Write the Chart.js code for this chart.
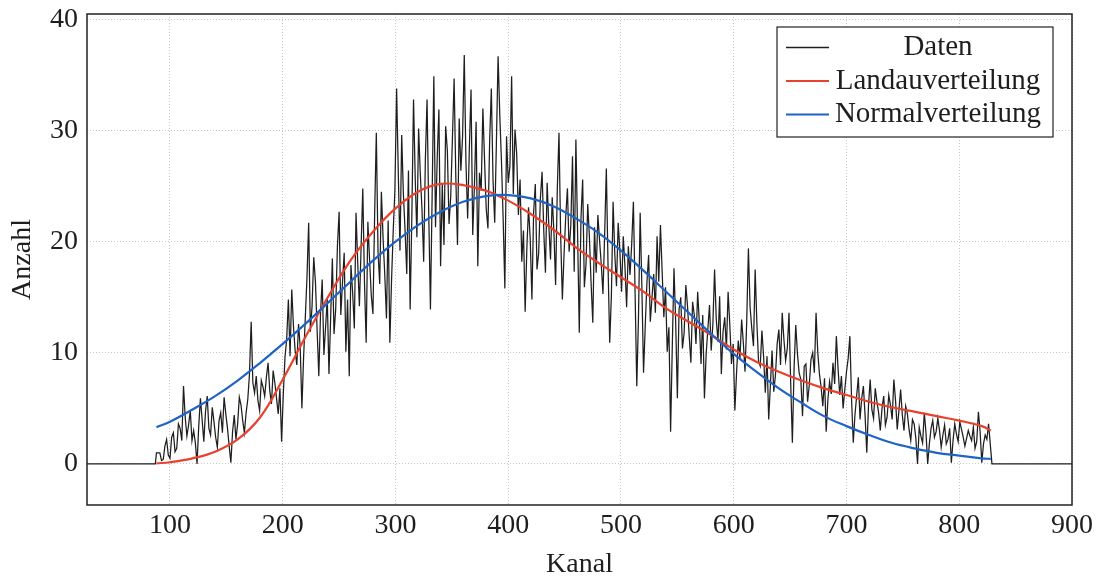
<!DOCTYPE html>
<html lang="de">
<head>
<meta charset="utf-8">
<title>Kanal / Anzahl</title>
<script src="https://cdn.jsdelivr.net/npm/chart.js@4.4.1/dist/chart.umd.min.js"></script>
<style>
  html, body { margin: 0; padding: 0; background: #fff; }
</style>
</head>
<body>
<canvas id="chart" width="1106" height="581"></canvas>
<script>
// Messdaten: ein Wert alle 3 Kanaele ab Kanal 88,
// dazu die Zwischenwerte ab Kanal 89.5 (ebenfalls alle 3 Kanaele)
const datenStart = 88;
const datenSchritt = 3;
const datenWerte = [
  1.0, 1.0, 0.4, 2.2, 0.5, 2.8, 1.4, 3.2, 7.0, 2.5,        // 88
  4.8, 3.0, 0.0, 5.9, 2.0, 6.1, 2.6, 3.8, 1.5, 4.6,        // 118
  6.0, 3.2, 0.1, 4.4, 3.6, 5.3, 2.8, 5.8, 12.8, 6.4,       // 148
  5.7, 7.5, 6.1, 9.1, 5.4, 7.3, 4.5, 2.0, 9.6, 14.8,       // 178
  15.7, 10.2, 12.6, 5.0, 13.1, 21.7, 14.2, 16.4, 7.9, 16.6, // 208
  12.3, 8.1, 18.5, 14.0, 22.7, 16.3, 10.1, 7.9, 15.4, 22.6, // 238
  14.2, 24.8, 10.9, 18.4, 13.5, 29.8, 16.2, 20.3, 13.1, 10.9, // 268
  21.0, 33.8, 19.2, 24.3, 17.1, 13.9, 32.8, 20.4, 26.1, 18.2, // 298
  32.8, 13.9, 34.9, 27.5, 17.8, 19.7, 28.2, 24.1, 34.7, 19.7, // 328
  26.4, 36.8, 22.1, 33.7, 25.0, 17.8, 24.6, 27.3, 21.2, 33.8, // 358
  21.7, 36.7, 27.2, 15.8, 25.3, 34.9, 30.1, 22.4, 18.2, 13.7, // 388
  23.1, 14.8, 25.2, 19.0, 26.3, 17.2, 21.4, 24.0, 16.1, 29.8, // 418
  14.8, 22.3, 19.1, 27.7, 29.2, 11.8, 25.6, 18.0, 20.4, 12.7, // 448
  17.2, 20.1, 15.3, 26.6, 10.9, 23.6, 16.0, 19.2, 20.5, 14.1, // 478
  17.0, 23.6, 7.0, 22.6, 8.2, 16.3, 12.8, 17.1, 20.5, 21.5,  // 508
  13.2, 10.1, 2.9, 17.6, 5.9, 15.0, 11.8, 14.2, 9.1, 13.4,   // 538
  15.5, 9.0, 5.9, 12.1, 10.2, 17.5, 11.0, 8.1, 13.2, 15.5,   // 568
  9.0, 4.8, 11.1, 13.0, 8.3, 19.4, 12.2, 17.5, 9.2, 12.0,    // 598
  6.4, 4.0, 10.2, 8.0, 12.1, 13.6, 9.3, 13.6, 1.9, 12.5,     // 628
  8.2, 4.3, 9.0, 7.1, 10.0, 13.6, 8.1, 5.2, 2.9, 7.4,        // 658
  9.1, 11.5, 6.2, 5.0, 8.3, 11.5, 1.9, 6.1, 4.0, 7.0,        // 688
  1.0, 7.6, 4.1, 5.6, 3.0, 6.1, 4.2, 5.3, 7.6, 3.1,          // 718
  6.7, 3.0, 4.5, 2.1, 3.6, 0.0, 2.5, 4.6, 0.0, 3.2,          // 748
  2.4, 4.1, 1.5, 3.5, 2.2, 0.1, 3.6, 2.0, 3.1, 1.6,          // 778
  3.0, 2.1, 1.4, 4.7, 0.1, 2.6, 3.6                          // 808
];
const zwischenWerte = [
  1.0, 0.3, 1.6, 0.8, 2.4, 1.1, 3.6, 2.1, 4.2, 3.5,          // 89.5
  2.1, 1.9, 3.4, 4.0, 4.7, 3.2, 5.1, 2.4, 3.9, 2.8,          // 119.5
  4.5, 1.6, 2.9, 2.2, 6.0, 3.9, 4.6, 8.1, 7.3, 7.9,          // 149.5
  4.8, 6.9, 7.8, 6.6, 8.4, 5.9, 6.8, 6.3, 11.2, 9.7,         // 179.5
  12.4, 8.9, 10.5, 9.6, 16.8, 11.9, 18.6, 12.0, 13.5, 9.8,   // 209.5
  14.9, 13.2, 11.7, 19.6, 13.4, 19.0, 14.8, 17.9, 12.2, 18.1, // 239.5
  19.5, 16.3, 21.8, 15.2, 22.4, 19.1, 24.5, 17.0, 21.9, 16.5, // 269.5
  24.7, 26.1, 29.6, 21.0, 26.4, 22.3, 25.7, 30.2, 22.9, 27.4, // 299.5
  22.5, 24.1, 21.3, 31.9, 25.2, 30.4, 21.6, 29.3, 25.8, 31.1, // 329.5
  29.5, 27.1, 28.4, 20.6, 30.8, 26.2, 32.0, 22.9, 29.0, 25.6, // 359.5
  28.9, 31.4, 22.0, 29.5, 26.8, 24.3, 27.9, 25.6, 21.0, 19.4, // 389.5
  20.2, 22.6, 17.5, 23.9, 21.0, 25.3, 18.4, 20.9, 24.7, 20.5, // 419.5
  18.9, 24.8, 21.5, 17.3, 20.8, 22.1, 15.9, 23.4, 16.2, 21.3, // 449.5
  22.4, 18.0, 20.6, 17.9, 15.2, 18.9, 21.7, 15.5, 17.8, 19.6, // 479.5
  19.8, 15.4, 13.1, 16.0, 12.4, 18.8, 15.0, 13.6, 16.4, 17.3, // 509.5
  15.9, 12.3, 10.6, 12.8, 13.9, 10.4, 16.1, 11.5, 14.6, 10.8, // 539.5
  12.7, 13.4, 9.8, 14.3, 12.6, 13.0, 15.1, 11.9, 10.3, 12.5,  // 569.5
  10.8, 8.2, 9.5, 10.9, 12.8, 14.1, 10.6, 12.7, 8.8, 9.6,     // 599.5
  9.7, 7.1, 6.5, 10.8, 8.9, 11.2, 10.4, 7.3, 8.6, 9.9,        // 629.5
  7.6, 8.8, 5.6, 9.4, 8.2, 10.1, 6.9, 7.7, 5.8, 6.3,          // 659.5
  7.2, 8.6, 7.9, 6.7, 9.5, 5.8, 4.4, 7.8, 5.9, 4.3,           // 689.5
  5.2, 4.9, 6.8, 4.6, 5.0, 3.5, 6.2, 4.0, 5.7, 4.8,           // 719.5
  4.4, 5.2, 3.1, 4.0, 2.3, 3.3, 1.9, 2.8, 1.8, 3.9,           // 749.5
  2.9, 3.0, 2.6, 1.8, 3.2, 2.1, 2.7, 3.8, 2.4, 2.3,           // 779.5
  2.5, 3.3, 2.0, 2.9, 1.8, 2.2                                // 809.5
];
// leere Kanaele (Anzahl 0) vor und nach dem Messbereich
const nullLinks = [26.4, 87];
const nullRechts = [829, 900];

// angepasste Kurven
const kurvenKanal = [88, 100, 120, 140, 160, 180, 200, 220, 240, 260,
  280, 300, 320, 340, 360, 380, 400, 420, 440, 460,
  480, 500, 520, 540, 560, 580, 600, 620, 640, 660,
  680, 700, 720, 740, 760, 780, 800, 820, 828];
const landauWerte = [0.05, 0.15, 0.5, 1.1, 2.2, 4.2, 7.6, 11.4, 15.0, 18.3,
  20.9, 23.0, 24.5, 25.2, 25.1, 24.6, 23.7, 22.5, 21.1, 19.5,
  18.1, 16.8, 15.5, 14.0, 12.8, 11.6, 10.3, 9.2, 8.3, 7.5,
  6.8, 6.2, 5.6, 5.1, 4.7, 4.3, 3.9, 3.4, 3.0];
const normalWerte = [3.3, 3.8, 4.9, 6.1, 7.5, 9.1, 10.8, 12.6, 14.5, 16.4,
  18.3, 20.0, 21.5, 22.7, 23.6, 24.1, 24.2, 23.9, 23.2, 22.1,
  20.8, 19.2, 17.4, 15.5, 13.6, 11.7, 9.9, 8.3, 6.8, 5.5,
  4.3, 3.4, 2.6, 1.9, 1.4, 1.0, 0.75, 0.5, 0.45];

const xTicks = [100, 200, 300, 400, 500, 600, 700, 800, 900];
const yTicks = [0, 10, 20, 30, 40];

const datenPunkte = [];
nullLinks.forEach((k) => datenPunkte.push({ x: k, y: 0 }));
datenWerte.forEach((v, i) => {
  const k = datenStart + i * datenSchritt;
  datenPunkte.push({ x: k, y: v });
  if (i < zwischenWerte.length) {
    datenPunkte.push({ x: k + datenSchritt / 2, y: zwischenWerte[i] });
  }
});
nullRechts.forEach((k) => datenPunkte.push({ x: k, y: 0 }));

const landauPunkte = kurvenKanal.map((k, i) => ({ x: k, y: landauWerte[i] }));
const normalPunkte = kurvenKanal.map((k, i) => ({ x: k, y: normalWerte[i] }));

Chart.defaults.font.family = "'Liberation Serif', 'DejaVu Serif', serif";
Chart.defaults.color = "#1e1e1e";

// Rahmen um die Achsen und Legende oben rechts
const rahmenUndLegende = {
  id: "rahmenUndLegende",
  afterDatasetsDraw(chart) {
    const { ctx, chartArea: a } = chart;
    ctx.save();
    ctx.strokeStyle = "#222";
    ctx.lineWidth = 1.5;
    ctx.strokeRect(a.left, a.top, a.right - a.left, a.bottom - a.top);

    const bx = a.right - 295;
    const by = a.top + 13;
    const bw = 276;
    const bh = 110;
    ctx.fillStyle = "#fff";
    ctx.fillRect(bx, by, bw, bh);
    ctx.lineWidth = 1.2;
    ctx.strokeRect(bx, by, bw, bh);

    ctx.font = "29px 'Liberation Serif', serif";
    ctx.textBaseline = "alphabetic";
    chart.data.datasets.forEach((ds, i) => {
      const yl = by + 20.5 + i * 33.5;
      ctx.strokeStyle = ds.borderColor;
      ctx.lineWidth = ds.legendWidth || ds.borderWidth;
      ctx.beginPath();
      ctx.moveTo(bx + 9, yl);
      ctx.lineTo(bx + 52, yl);
      ctx.stroke();
      ctx.fillStyle = "#1e1e1e";
      ctx.textAlign = "center";
      ctx.fillText(ds.label, bx + 161, by + 28 + i * 33.5);
    });
    ctx.restore();
  },
};

new Chart(document.getElementById("chart"), {
  type: "line",
  data: {
    datasets: [
      {
        label: "Daten",
        data: datenPunkte,
        borderColor: "#1e1e1e",
        borderWidth: 1.25,
        legendWidth: 1.4,
        pointRadius: 0,
        tension: 0,
        order: 3,
      },
      {
        label: "Landauverteilung",
        data: landauPunkte,
        borderColor: "#e8412e",
        borderWidth: 2.2,
        pointRadius: 0,
        tension: 0.4,
        order: 2,
      },
      {
        label: "Normalverteilung",
        data: normalPunkte,
        borderColor: "#1f63c4",
        borderWidth: 2.2,
        pointRadius: 0,
        tension: 0.4,
        order: 1,
      },
    ],
  },
  options: {
    responsive: false,
    animation: false,
    devicePixelRatio: 1,
    layout: { padding: { top: 14, right: 34, left: 0, bottom: 0 } },
    plugins: {
      legend: { display: false },
      tooltip: { enabled: false },
    },
    scales: {
      x: {
        type: "linear",
        min: 26.4,
        max: 900,
        afterBuildTicks: (scale) => {
          scale.ticks = xTicks.map((v) => ({ value: v }));
        },
        afterFit: (scale) => {
          scale.height = 76;
          scale.paddingLeft = 0;
          scale.paddingRight = 0;
        },
        ticks: { font: { size: 28 }, padding: 4, maxRotation: 0 },
        grid: { color: "rgba(0,0,0,0.28)", lineWidth: 0.8, drawTicks: false },
        border: { display: false, dash: [1, 2] },
        title: {
          display: true,
          text: "Kanal",
          font: { size: 28 },
          padding: { top: 0, bottom: 0 },
        },
      },
      y: {
        min: -3.7,
        max: 40.5,
        afterBuildTicks: (scale) => {
          scale.ticks = yTicks.map((v) => ({ value: v }));
        },
        afterFit: (scale) => {
          scale.width = 87;
          scale.paddingTop = 0;
          scale.paddingBottom = 0;
        },
        ticks: { font: { size: 28 }, padding: 9 },
        grid: { color: "rgba(0,0,0,0.28)", lineWidth: 0.8, drawTicks: false },
        border: { display: false, dash: [1, 2] },
        title: {
          display: true,
          text: "Anzahl",
          font: { size: 28 },
          padding: { top: 6, bottom: 0 },
        },
      },
    },
  },
  plugins: [rahmenUndLegende],
});
</script>
</body>
</html>
